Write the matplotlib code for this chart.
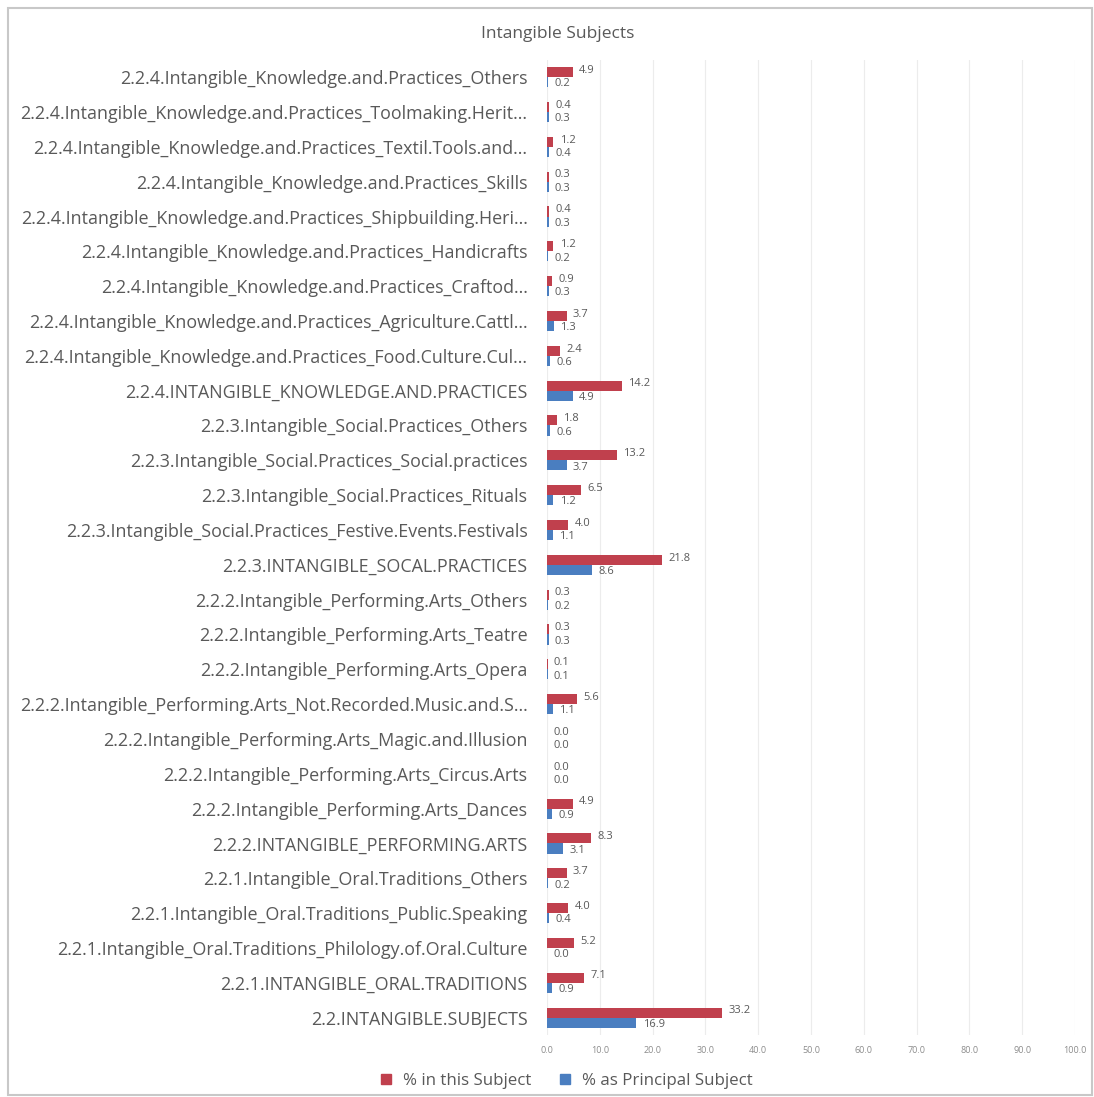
import numpy as np
import matplotlib
matplotlib.use('Agg')
import matplotlib.pyplot as plt
from matplotlib.patches import Rectangle
from matplotlib.lines import Line2D

####DATA####
# categories, listed top to bottom as they appear on the chart
categories = [
    '2.2.4.Intangible_Knowledge.and.Practices_Others',
    '2.2.4.Intangible_Knowledge.and.Practices_Toolmaking.Herit...',
    '2.2.4.Intangible_Knowledge.and.Practices_Textil.Tools.and...',
    '2.2.4.Intangible_Knowledge.and.Practices_Skills',
    '2.2.4.Intangible_Knowledge.and.Practices_Shipbuilding.Heri...',
    '2.2.4.Intangible_Knowledge.and.Practices_Handicrafts',
    '2.2.4.Intangible_Knowledge.and.Practices_Craftod...',
    '2.2.4.Intangible_Knowledge.and.Practices_Agriculture.Cattl...',
    '2.2.4.Intangible_Knowledge.and.Practices_Food.Culture.Cul...',
    '2.2.4.INTANGIBLE_KNOWLEDGE.AND.PRACTICES',
    '2.2.3.Intangible_Social.Practices_Others',
    '2.2.3.Intangible_Social.Practices_Social.practices',
    '2.2.3.Intangible_Social.Practices_Rituals',
    '2.2.3.Intangible_Social.Practices_Festive.Events.Festivals',
    '2.2.3.INTANGIBLE_SOCAL.PRACTICES',
    '2.2.2.Intangible_Performing.Arts_Others',
    '2.2.2.Intangible_Performing.Arts_Teatre',
    '2.2.2.Intangible_Performing.Arts_Opera',
    '2.2.2.Intangible_Performing.Arts_Not.Recorded.Music.and.S...',
    '2.2.2.Intangible_Performing.Arts_Magic.and.Illusion',
    '2.2.2.Intangible_Performing.Arts_Circus.Arts',
    '2.2.2.Intangible_Performing.Arts_Dances',
    '2.2.2.INTANGIBLE_PERFORMING.ARTS',
    '2.2.1.Intangible_Oral.Traditions_Others',
    '2.2.1.Intangible_Oral.Traditions_Public.Speaking',
    '2.2.1.Intangible_Oral.Traditions_Philology.of.Oral.Culture',
    '2.2.1.INTANGIBLE_ORAL.TRADITIONS',
    '2.2.INTANGIBLE.SUBJECTS',
]

# % in this Subject
pct_subject = [4.9, 0.4, 1.2, 0.3, 0.4, 1.2, 0.9, 3.7, 2.4, 14.2,
               1.8, 13.2, 6.5, 4.0, 21.8,
               0.3, 0.3, 0.1, 5.6, 0.0, 0.0, 4.9, 8.3,
               3.7, 4.0, 5.2, 7.1, 33.2]

# % as Principal Subject
pct_principal = [0.2, 0.3, 0.4, 0.3, 0.3, 0.2, 0.3, 1.3, 0.6, 4.9,
                 0.6, 3.7, 1.2, 1.1, 8.6,
                 0.2, 0.3, 0.1, 1.1, 0.0, 0.0, 0.9, 3.1,
                 0.2, 0.4, 0.0, 0.9, 16.9]

x_ticks = np.arange(0, 101, 10)

red = '#C0404D'
blue = '#4A7EC0'
txt = '#595959'

plt.rcParams['font.family'] = ['Open Sans', 'DejaVu Sans']

fig = plt.figure(figsize=(10.94, 10.97), dpi=100)
ax = fig.add_axes([0.5, 0.0565, 0.4826, 0.889])

y = np.arange(len(categories))
h = 0.29
ax.barh(y - h / 2, pct_subject, height=h, color=red, zorder=3)
ax.barh(y + h / 2, pct_principal, height=h, color=blue, zorder=3)

# value labels at the end of each bar
for yi, v in zip(y, pct_subject):
    ax.text(v + 1.2, yi - h / 2 - 0.05, '{:.1f}'.format(v), fontsize=8,
            color=txt, va='center', ha='left')
for yi, v in zip(y, pct_principal):
    ax.text(v + 1.2, yi + h / 2 + 0.05, '{:.1f}'.format(v), fontsize=8,
            color=txt, va='center', ha='left')

ax.set_yticks(y)
ax.set_yticklabels(categories, fontsize=12.9, color=txt)
ax.set_ylim(len(categories) - 0.5, -0.5)

ax.set_xlim(0, 100)
ax.set_xticks(x_ticks)
ax.set_xticklabels(['{:.1f}'.format(t) for t in x_ticks], fontsize=6.5, color='#8c8c8c')
ax.xaxis.grid(True, color='#ececec', linewidth=0.8, zorder=0)
ax.tick_params(axis='both', length=0)
ax.tick_params(axis='y', pad=14)
ax.tick_params(axis='x', pad=8)
for s in ax.spines.values():
    s.set_visible(False)

fig.text(0.51, 0.969, 'Intangible Subjects', fontsize=12.5, color=txt, ha='center', va='center')

handles = [Line2D([], [], marker='s', linestyle='', color=red, markersize=7),
           Line2D([], [], marker='s', linestyle='', color=blue, markersize=7)]
fig.legend(handles, ['% in this Subject', '% as Principal Subject'], loc='center',
           bbox_to_anchor=(0.513, 0.015), ncol=2, frameon=False, fontsize=12.2,
           handletextpad=0.0, columnspacing=1.0, labelcolor=txt)

# chart border
fig.patches.append(Rectangle((0.007, 0.002), 0.991, 0.991, transform=fig.transFigure,
                             fill=False, edgecolor='#c8c8c8', linewidth=1.5))

fig.savefig('out.png', dpi=100, facecolor='white')
